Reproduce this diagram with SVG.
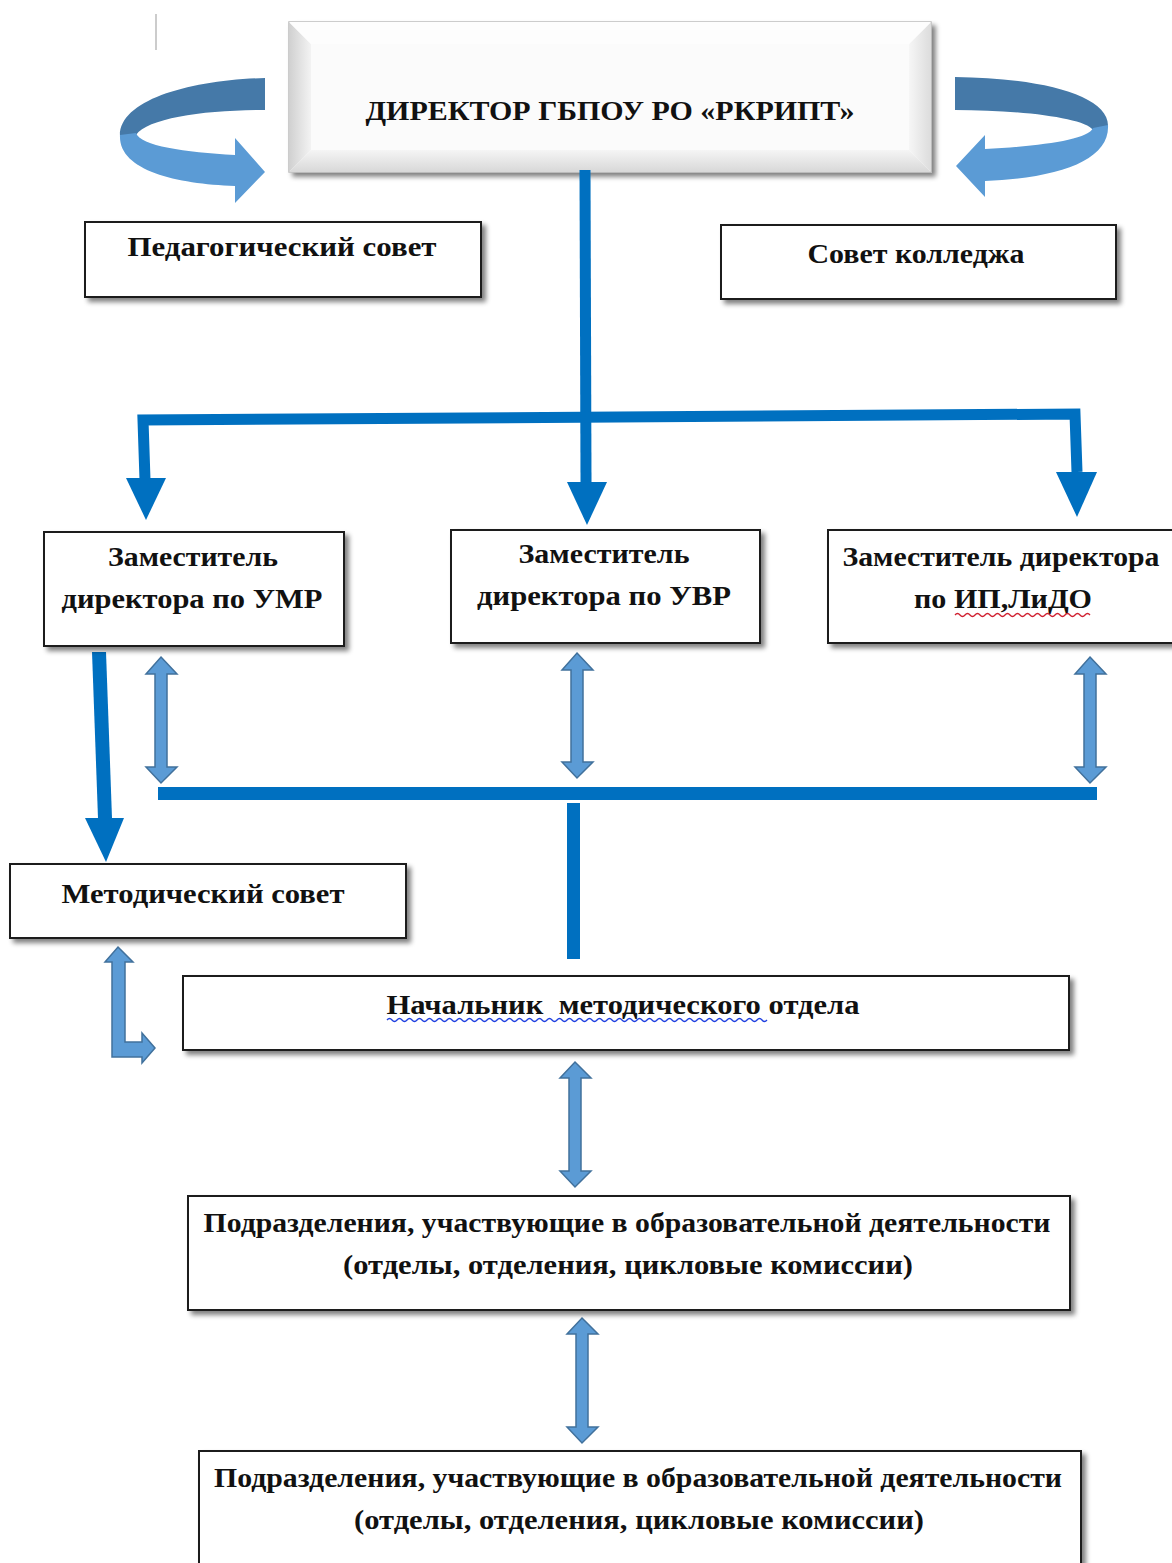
<svg xmlns="http://www.w3.org/2000/svg" width="1172" height="1563" viewBox="0 0 1172 1563">
<style>
.box{fill:#fff;stroke:#1a1a1a;stroke-width:2}
.t{font-family:"Liberation Serif","Times New Roman",serif;font-weight:bold;font-size:28px;fill:#111;text-anchor:middle}
.conn{fill:none;stroke:#0070C0;stroke-width:11}
.head{fill:#0070C0}
.dbl{fill:#5B9BD5;stroke:#41719C;stroke-width:1.5}
</style>
<defs>
<filter id="sh" x="-5%" y="-10%" width="112%" height="130%">
<feGaussianBlur in="SourceAlpha" stdDeviation="2.5"/>
<feOffset dx="4" dy="4" result="b"/>
<feComponentTransfer><feFuncA type="linear" slope="0.5"/></feComponentTransfer>
<feMerge><feMergeNode/><feMergeNode in="SourceGraphic"/></feMerge>
</filter>
<linearGradient id="bl" x1="0" y1="0" x2="1" y2="0"><stop offset="0" stop-color="#d0d0d0"/><stop offset="1" stop-color="#f3f3f3"/></linearGradient>
<linearGradient id="bb" x1="0" y1="1" x2="0" y2="0"><stop offset="0" stop-color="#d8d8d8"/><stop offset="1" stop-color="#f5f5f5"/></linearGradient>
<linearGradient id="br" x1="1" y1="0" x2="0" y2="0"><stop offset="0" stop-color="#dcdcdc"/><stop offset="1" stop-color="#f6f6f6"/></linearGradient>
</defs>

<line x1="156" y1="14" x2="156" y2="50" stroke="#bbb" stroke-width="1.5"/>

<g id="director">
<rect x="289" y="22" width="642" height="150" fill="#fafafa" stroke="#bdbdbd" stroke-width="1.5" filter="url(#sh)"/>
<polygon points="289,22 311,44 311,150 289,172" fill="url(#bl)"/>
<polygon points="289,172 311,150 909,150 931,172" fill="url(#bb)"/>
<polygon points="931,22 909,44 909,150 931,172" fill="url(#br)"/>
<polygon points="289,22 931,22 909,44 311,44" fill="#fdfdfd"/>
<rect x="311" y="44" width="598" height="106" fill="#fbfbfb"/>
<text class="t" x="610" y="120" font-size="31" textLength="489" lengthAdjust="spacingAndGlyphs">ДИРЕКТОР ГБПОУ РО «РКРИПТ»</text>
</g>

<g id="curve-left">
<path d="M265,78 L265,110 C205,110 148,118 136,135 L120,137 C118,100 190,80 265,78 Z" fill="#4579A8"/>
<path d="M120,135 C118,170 175,184 235,186 L235,203 L265,172 L235,138 L235,155 C185,152 140,146 136,133 Z" fill="#5B9BD5"/>
</g>

<g id="curve-right">
<path d="M955,77 L955,110 C1020,110 1085,118 1093,130 L1108,127 C1110,95 1040,78 955,77 Z" fill="#4579A8"/>
<path d="M1108,125 C1110,160 1060,178 985,181 L985,197 L956,166 L985,135 L985,149 C1040,146 1088,140 1093,128 Z" fill="#5B9BD5"/>
</g>

<g id="ped-council">
<rect class="box" x="85" y="222" width="396" height="75" filter="url(#sh)"/>
<text class="t" x="282" y="256" textLength="309" lengthAdjust="spacingAndGlyphs">Педагогический совет</text>
</g>

<g id="college-council">
<rect class="box" x="721" y="225" width="395" height="74" filter="url(#sh)"/>
<text class="t" x="916" y="263" textLength="217" lengthAdjust="spacingAndGlyphs">Совет колледжа</text>
</g>

<g id="connectors">
<path class="conn" d="M585,170 L586,482"/>
<path class="conn" d="M145,480 L143,420 L1075,414 L1077,472"/>
<polygon class="head" points="126,478 166,478 146,520"/>
<polygon class="head" points="567,482 607,482 587,525"/>
<polygon class="head" points="1056,472 1097,472 1077,517"/>

<polygon class="head" points="92,652 106,652 112,818 98,818"/>
<polygon class="head" points="85,818 124,818 106,862"/>

<rect x="158" y="787" width="939" height="13" fill="#0070C0"/>
<rect x="567" y="803" width="13" height="156" fill="#0070C0"/>

<path class="dbl" d="M161,657 L177,674 L167,674 L167,767 L177,767 L161,783 L146,767 L155,767 L155,674 L146,674 Z"/>
<path class="dbl" d="M577,653 L593,670 L583,670 L583,762 L593,762 L577,778 L562,762 L571,762 L571,670 L562,670 Z"/>
<path class="dbl" d="M1090,657 L1106,674 L1096,674 L1096,767 L1106,767 L1090,783 L1075,767 L1084,767 L1084,674 L1075,674 Z"/>

<path class="dbl" d="M118,947 L133,962 L125,962 L125,1042 L142,1042 L142,1033 L155,1048 L142,1063 L142,1057 L112,1057 L112,962 L105,962 Z"/>

<path class="dbl" d="M575,1062 L591,1078 L581,1078 L581,1171 L591,1171 L575,1187 L560,1171 L569,1171 L569,1078 L560,1078 Z"/>
<path class="dbl" d="M582,1318 L598,1334 L588,1334 L588,1427 L598,1427 L582,1443 L567,1427 L576,1427 L576,1334 L567,1334 Z"/>
</g>

<g id="zam-umr">
<rect class="box" x="44" y="532" width="300" height="114" filter="url(#sh)"/>
<text class="t" x="193" y="566" textLength="170" lengthAdjust="spacingAndGlyphs">Заместитель</text>
<text class="t" x="192" y="608" textLength="261" lengthAdjust="spacingAndGlyphs">директора по УМР</text>
</g>

<g id="zam-uvr">
<rect class="box" x="451" y="530" width="309" height="113" filter="url(#sh)"/>
<text class="t" x="604" y="563" textLength="171" lengthAdjust="spacingAndGlyphs">Заместитель</text>
<text class="t" x="604" y="605" textLength="254" lengthAdjust="spacingAndGlyphs">директора по УВР</text>
</g>

<g id="zam-ipl">
<rect class="box" x="828" y="530" width="350" height="113" filter="url(#sh)"/>
<text class="t" x="1001" y="566" textLength="317" lengthAdjust="spacingAndGlyphs">Заместитель директора</text>
<text class="t" x="1003" y="608" textLength="178" lengthAdjust="spacingAndGlyphs">по ИП,ЛиДО</text>
<path d="M955,615 q2.5,-3 5,0 t5,0 t5,0 t5,0 t5,0 t5,0 t5,0 t5,0 t5,0 t5,0 t5,0 t5,0 t5,0 t5,0 t5,0 t5,0 t5,0 t5,0 t5,0 t5,0 t5,0 t5,0 t5,0 t5,0 t5,0 t5,0 t5,0 " fill="none" stroke="#d02030" stroke-width="1.3"/>
</g>

<g id="method-council">
<rect class="box" x="10" y="864" width="396" height="74" filter="url(#sh)"/>
<text class="t" x="203" y="903" textLength="283" lengthAdjust="spacingAndGlyphs">Методический совет</text>
</g>

<g id="head-method">
<rect class="box" x="183" y="976" width="886" height="74" filter="url(#sh)"/>
<text class="t" x="623" y="1014" textLength="473" lengthAdjust="spacingAndGlyphs" xml:space="preserve">Начальник  методического отдела</text>
<path d="M387,1020 q2.5,-3 5,0 t5,0 t5,0 t5,0 t5,0 t5,0 t5,0 t5,0 t5,0 t5,0 t5,0 t5,0 t5,0 t5,0 t5,0 t5,0 t5,0 t5,0 t5,0 t5,0 t5,0 t5,0 t5,0 t5,0 t5,0 t5,0 t5,0 t5,0 t5,0 t5,0 t5,0 t5,0 t5,0 t5,0 t5,0 t5,0 t5,0 t5,0 t5,0 t5,0 t5,0 t5,0 t5,0 t5,0 t5,0 t5,0 t5,0 t5,0 t5,0 t5,0 t5,0 t5,0 t5,0 t5,0 t5,0 t5,0 t5,0 t5,0 t5,0 t5,0 t5,0 t5,0 t5,0 t5,0 t5,0 t5,0 t5,0 t5,0 t5,0 t5,0 t5,0 t5,0 t5,0 t5,0 t5,0 t5,0" fill="none" stroke="#2040e0" stroke-width="1.3"/>
</g>

<g id="divisions-1">
<rect class="box" x="188" y="1196" width="882" height="114" filter="url(#sh)"/>
<text class="t" x="627" y="1232" textLength="847" lengthAdjust="spacingAndGlyphs">Подразделения, участвующие в образовательной деятельности</text>
<text class="t" x="628" y="1274" textLength="570" lengthAdjust="spacingAndGlyphs">(отделы, отделения, цикловые комиссии)</text>
</g>

<g id="divisions-2">
<rect class="box" x="199" y="1451" width="882" height="120" filter="url(#sh)"/>
<text class="t" x="638" y="1487" textLength="848" lengthAdjust="spacingAndGlyphs">Подразделения, участвующие в образовательной деятельности</text>
<text class="t" x="639" y="1529" textLength="570" lengthAdjust="spacingAndGlyphs">(отделы, отделения, цикловые комиссии)</text>
</g>
</svg>
